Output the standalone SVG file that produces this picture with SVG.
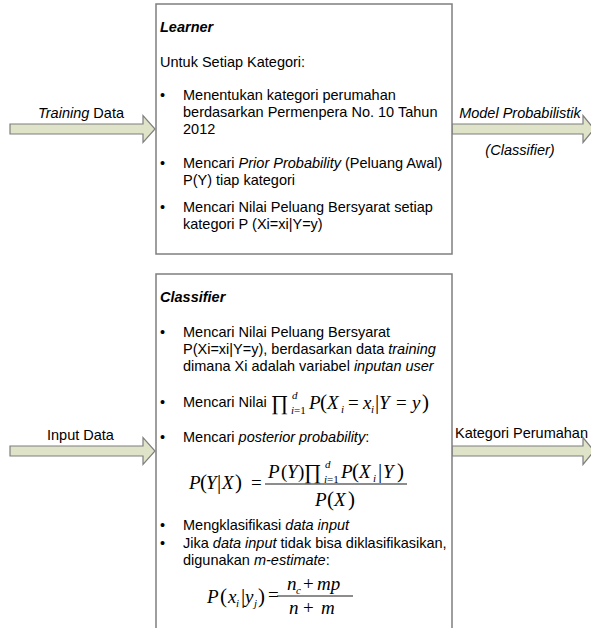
<svg xmlns="http://www.w3.org/2000/svg" width="591" height="628" viewBox="0 0 591 628">
<style>
.t{font-family:"Liberation Sans",Arial,sans-serif;font-size:14.5px;fill:#000}
.i{font-style:italic}
.b{font-weight:bold}
.m{font-family:"Liberation Serif","Times New Roman",serif;font-size:19px;fill:#000}
.mi{font-family:"Liberation Serif","Times New Roman",serif;font-size:19px;font-style:italic;fill:#000}
.s{font-size:11px}
.p{font-size:21px}
.pr{font-size:21px}
.box{fill:#fff;stroke:#7f7f7f;stroke-width:1.5}
.arrow{fill:#dfe3c8;stroke:#7f7f7f;stroke-width:1.2;stroke-linejoin:miter}
.fr{stroke:#000;stroke-width:0.9}
</style>
<rect width="591" height="628" fill="#fff"/>
<g id="connectors">
  <path class="arrow" d="M10,124 H143 V115.5 L155,129 L143,142.5 V134 H10 Z"/>
  <path class="arrow" d="M452,124 H583 V115.5 L594,129 L583,142.5 V134 H452 Z"/>
  <path class="arrow" d="M10,446 H143 V437.5 L155,451 L143,464.5 V456 H10 Z"/>
  <path class="arrow" d="M452,446 H583 V437.5 L594,451 L583,464.5 V456 H452 Z"/>
  <text class="t" x="38" y="118"><tspan class="i">Training</tspan> Data</text>
  <text class="t i" x="520" y="118" text-anchor="middle">Model Probabilistik</text>
  <text class="t i" x="520" y="155" text-anchor="middle">(Classifier)</text>
  <text class="t" x="47" y="440">Input Data</text>
  <text class="t" x="455" y="438">Kategori Perumahan</text>
</g>
<g id="learner">
  <rect class="box" x="156" y="4" width="296" height="250"/>
  <text class="t b i" x="160" y="32">Learner</text>
  <text class="t" x="160" y="67">Untuk Setiap Kategori:</text>
  <text class="t" x="160" y="100">•</text>
  <text class="t" x="183" y="100">Menentukan kategori perumahan</text>
  <text class="t" x="183" y="117">berdasarkan Permenpera No. 10 Tahun</text>
  <text class="t" x="183" y="134">2012</text>
  <text class="t" x="160" y="168">•</text>
  <text class="t" x="183" y="168">Mencari <tspan class="i">Prior Probability</tspan> (Peluang Awal)</text>
  <text class="t" x="183" y="185">P(Y) tiap kategori</text>
  <text class="t" x="160" y="212">•</text>
  <text class="t" x="183" y="212">Mencari Nilai Peluang Bersyarat setiap</text>
  <text class="t" x="183" y="229">kategori P (Xi=xi|Y=y)</text>
</g>
<g id="classifier">
  <path class="box" d="M156,640 V274 H452 V640"/>
  <text class="t b i" x="160" y="302">Classifier</text>
  <text class="t" x="160" y="337">•</text>
  <text class="t" x="183" y="337">Mencari Nilai Peluang Bersyarat</text>
  <text class="t" x="183" y="354">P(Xi=xi|Y=y), berdasarkan data <tspan class="i">training</tspan></text>
  <text class="t" x="183" y="371">dimana Xi adalah variabel <tspan class="i">inputan user</tspan></text>
  <text class="t" x="160" y="407">•</text>
  <text class="t" x="183" y="407">Mencari Nilai</text>
  <g id="formula-product">
    <text class="m pr" x="271" y="410">∏</text>
    <text class="mi s" x="292" y="399">d</text>
    <text class="m s" x="291" y="414"><tspan font-style="italic">i</tspan>=1</text>
    <text class="mi" x="309" y="409">P</text>
    <text class="m p" x="320" y="409">(</text>
    <text class="mi" x="327" y="409">X</text>
    <text class="mi s" x="341" y="413">i</text>
    <text class="m" x="348" y="409">=</text>
    <text class="mi" x="363" y="409">x</text>
    <text class="mi s" x="371" y="413">i</text>
    <text class="m p" x="375" y="409">|</text>
    <text class="mi" x="379" y="409">Y</text>
    <text class="m" x="396" y="409">=</text>
    <text class="mi" x="412" y="409">y</text>
    <text class="m p" x="422" y="409">)</text>
  </g>
  <text class="t" x="160" y="442">•</text>
  <text class="t" x="183" y="442">Mencari <tspan class="i">posterior probability</tspan>:</text>
  <g id="formula-posterior">
    <text class="mi" x="189" y="489">P</text>
    <text class="m p" x="200" y="489">(</text>
    <text class="mi" x="206" y="489">Y</text>
    <text class="m p" x="217" y="489">|</text>
    <text class="mi" x="222" y="489">X</text>
    <text class="m p" x="235" y="489">)</text>
    <text class="m" x="251" y="489">=</text>
    <line class="fr" x1="265" y1="484" x2="407" y2="484"/>
    <text class="mi" x="268" y="478">P</text>
    <text class="m" x="281" y="478">(</text>
    <text class="mi" x="287" y="478">Y</text>
    <text class="m" x="298" y="478">)</text>
    <text class="m pr" x="304" y="479">∏</text>
    <text class="mi s" x="325" y="468">d</text>
    <text class="m s" x="324" y="483"><tspan font-style="italic">i</tspan>=1</text>
    <text class="mi" x="341" y="478">P</text>
    <text class="m p" x="352" y="478">(</text>
    <text class="mi" x="359" y="478">X</text>
    <text class="mi s" x="373" y="482">i</text>
    <text class="m p" x="378" y="478">|</text>
    <text class="mi" x="383" y="478">Y</text>
    <text class="m p" x="397" y="478">)</text>
    <text class="mi" x="315" y="506">P</text>
    <text class="m p" x="327" y="506">(</text>
    <text class="mi" x="334" y="506">X</text>
    <text class="m p" x="348" y="506">)</text>
  </g>
  <text class="t" x="160" y="530">•</text>
  <text class="t" x="183" y="530">Mengklasifikasi <tspan class="i">data input</tspan></text>
  <text class="t" x="160" y="548">•</text>
  <text class="t" x="183" y="548">Jika <tspan class="i">data input</tspan> tidak bisa diklasifikasikan,</text>
  <text class="t" x="183" y="565">digunakan <tspan class="i">m-estimate</tspan>:</text>
  <g id="formula-mestimate">
    <text class="mi" x="207" y="603">P</text>
    <text class="m p" x="220" y="603">(</text>
    <text class="mi" x="228" y="603">x</text>
    <text class="mi s" x="236" y="607">i</text>
    <text class="m p" x="241" y="603">|</text>
    <text class="mi" x="245" y="603">y</text>
    <text class="mi s" x="254" y="607">j</text>
    <text class="m p" x="258" y="603">)</text>
    <text class="m" x="268" y="601">=</text>
    <line class="fr" x1="277" y1="596" x2="353" y2="596"/>
    <text class="mi" x="287" y="590">n</text>
    <text class="mi s" x="296" y="594">c</text>
    <text class="m" x="303" y="590">+</text>
    <text class="mi" x="317" y="590">mp</text>
    <text class="mi" x="289" y="614">n</text>
    <text class="m" x="303" y="614">+</text>
    <text class="mi" x="321" y="614">m</text>
  </g>
</g>
</svg>
